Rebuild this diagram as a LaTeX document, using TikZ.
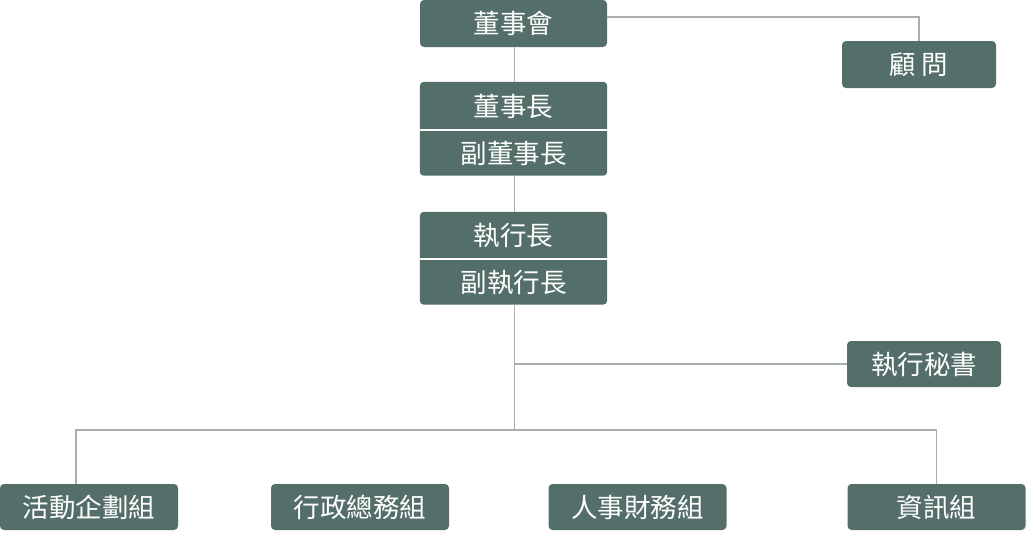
\documentclass[tikz,border=0pt]{standalone}
\usepackage{fontspec}
\setmainfont{Noto Sans CJK TC}
\usetikzlibrary{positioning,backgrounds}
\definecolor{boxfill}{HTML}{546F6A}
\definecolor{linegray}{HTML}{A9AFAF}
\tikzstyle{squared} = [rectangle, rounded corners=4pt, minimum width=187pt, minimum height=47pt, text centered, fill=boxfill, text=white, font=\fontsize{26.5}{30}\selectfont, inner sep=0pt]
\tikzstyle{half} = [rectangle, minimum width=187pt, text centered, text=white, font=\fontsize{26.5}{30}\selectfont, inner sep=0pt]
\tikzstyle{unit} = [squared, minimum width=178pt, minimum height=46pt]
\tikzstyle{side} = [squared, minimum width=154pt]
\tikzstyle{connect} = [line width=1.7pt, draw=linegray]

\begin{document}
\begin{tikzpicture}[x=1pt,y=-1pt]
			\useasboundingbox (0,0) rectangle (1026,533);
			\node (board) [squared] at (513.5,23.5) {董事會};
			\node (advisor) [side] at (919,64.5) {顧\ 問};
			%-----------------------------------------------
			\node (chair) [half,minimum height=48pt,below of=board,node distance=82.5pt] {董事長};
			\node (vchair) [half,minimum height=45pt,below of=chair,node distance=47pt] {副董事長};
			%-----------------------------------------------
			\node (ceo) [half,minimum height=47pt,below of=vchair,node distance=82.5pt] {執行長};
			\node (vceo) [half,minimum height=45pt,below of=ceo,node distance=46.5pt] {副執行長};
			%-----------------------------------------------
			\node (secretary) [side,minimum height=46pt] at (924,364) {執行秘書};
			\coordinate (split) at (514.5,430);
			%-----------------------------------------------
			\node (activity) [unit] at (89,507) {活動企劃組};
			\node (admin) [unit,right of=activity,node distance=271pt] {行政總務組};
			\node (finance) [unit,right of=admin,node distance=277.5pt] {人事財務組};
			\node (info) [unit,right of=finance,node distance=299pt] {資訊組};

			%-----------------------------------------------
			%-----------------------------------------------

			\begin{scope}[on background layer]
			\fill [boxfill,rounded corners=4pt] (chair.north west) rectangle (vchair.south east);
			\fill [boxfill,rounded corners=4pt] (ceo.north west) rectangle (vceo.south east);
			\draw [white,line width=1.5pt] (chair.south west) -- (chair.south east);
			\draw [white,line width=1.5pt] (ceo.south west) -- (ceo.south east);
			\end{scope}

			\draw [connect] ([yshift=6.5pt]board.east) -| (advisor.north);
			\draw [connect] ([xshift=1pt]board.south) -- ([xshift=1pt]chair.north);
			\draw [connect] ([xshift=1pt]vchair.south) -- ([xshift=1pt]ceo.north);
			\draw [connect] ([xshift=1pt]vceo.south) -- (split);
			\draw [connect] ([xshift=1pt]vceo.south |- secretary.west) -- (secretary.west);
			\draw [connect] ([xshift=-13pt]activity.north) |- (split) -| (info.north);
\end{tikzpicture}
\end{document}
